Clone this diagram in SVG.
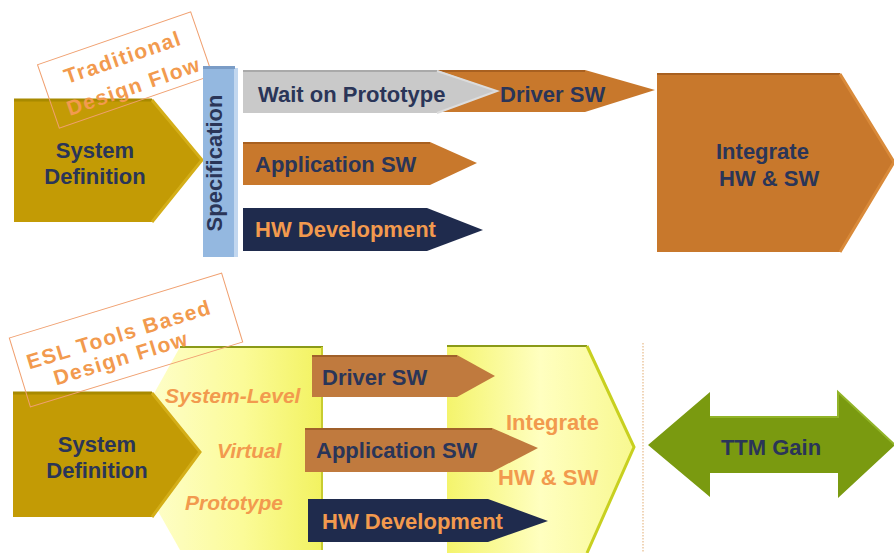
<svg xmlns="http://www.w3.org/2000/svg" width="894" height="553" viewBox="0 0 894 553">
<style>
text{font-family:"Liberation Sans",Arial,sans-serif;font-weight:bold;font-size:22px}
.nv{fill:#2a3558}
.or{fill:#f29a4e}
.it{font-style:italic;font-size:21px}
.gold{fill:#c39b05}
.orange{fill:#c8782c}
.brown{fill:#c07a3e}
.navy{fill:#1f2b4d}
.lbl{fill:none;stroke:#f0a070;stroke-width:1}
.lt{fill:#f29a4e;font-size:21px;letter-spacing:1.5px}
</style>
<defs>
<linearGradient id="y1" x1="0" y1="0" x2="1" y2="0">
<stop offset="0" stop-color="#ffffd8"/>
<stop offset="0.6" stop-color="#fbfb98"/>
<stop offset="1" stop-color="#f2f260"/>
</linearGradient>
<linearGradient id="y2" x1="0" y1="0" x2="1" y2="0">
<stop offset="0" stop-color="#f4f46c"/>
<stop offset="0.5" stop-color="#ffffc0"/>
<stop offset="1" stop-color="#f8f890"/>
</linearGradient>
</defs>
<rect width="894" height="553" fill="#ffffff"/>

<!-- Top section -->
<g id="sysdef1">
<polygon class="gold" points="14,99 152,99 202,160 152,222 14,222"/>
<polyline points="14,100 152,100" stroke="#a88a00" stroke-width="3" fill="none"/>
<polyline points="152,100 202,160 152,222" stroke="#d4ae18" stroke-width="3" fill="none"/>
<text class="nv" x="95" y="158" text-anchor="middle">System</text>
<text class="nv" x="95" y="184" text-anchor="middle">Definition</text>
</g>

<g id="label-traditional" transform="rotate(-19 125 70)">
<rect class="lbl" x="-81" y="-33.5" width="162" height="67" transform="translate(125 70)"/>
<text class="lt" x="127" y="64.5" text-anchor="middle">Traditional</text>
<text class="lt" x="128" y="95.5" text-anchor="middle">Design Flow</text>
</g>

<g id="specification">
<rect x="203" y="66" width="32" height="191" fill="#94b8e0"/>
<rect x="234" y="68" width="4" height="189" fill="#c2d7ef"/>
<rect x="203" y="66" width="32" height="3" fill="#7a9cc6"/>
<text class="nv" transform="translate(222 163) rotate(-90)" x="0" y="0" text-anchor="middle" font-size="21">Specification</text>
</g>

<g id="driver-sw-1">
<polygon class="orange" points="430,70 585,70 655,90 585,112 430,112"/>
<polyline points="430,71 585,71" stroke="#a86020" stroke-width="2" fill="none"/>
<text class="nv" x="500" y="102">Driver SW</text>
</g>

<g id="wait-prototype">
<polygon fill="#c9c9c9" points="243,70 437,70 497,91 437,113 243,113"/>
<polyline points="243,71 437,71" stroke="#a9a9a9" stroke-width="2" fill="none"/>
<polyline points="437,71 497,91 437,113" stroke="#dcdcdc" stroke-width="2" fill="none"/>
<text class="nv" x="258" y="102">Wait on Prototype</text>
</g>

<g id="app-sw-1">
<polygon class="orange" points="243,142 430,142 477,163 430,185 243,185"/>
<polyline points="243,143 430,143" stroke="#a86020" stroke-width="2" fill="none"/>
<text class="nv" x="255" y="172">Application SW</text>
</g>

<g id="hw-dev-1">
<polygon class="navy" points="243,208 427,208 483,230 427,251 243,251"/>
<text class="or" x="255" y="237">HW Development</text>
</g>

<g id="integrate-1">
<polygon class="orange" points="657,73 840,73 894,162 840,252 657,252"/>
<polyline points="657,74 840,74" stroke="#a86020" stroke-width="2" fill="none"/>
<polyline points="840,74 894,162 840,252" stroke="#d98a3a" stroke-width="3" fill="none"/>
<text class="nv" x="716" y="159">Integrate</text>
<text class="nv" x="719" y="186">HW &amp; SW</text>
</g>

<!-- Bottom section -->
<g id="virtual-prototype">
<polygon fill="url(#y1)" points="180,347 323,347 323,550 180,550 123,449"/>
<line x1="180" y1="347" x2="323" y2="347" stroke="#8a9a18" stroke-width="2"/>
<line x1="322" y1="347" x2="322" y2="550" stroke="#c8cc30" stroke-width="2"/>
<text class="or it" x="165" y="403">System-Level</text>
<text class="or it" x="217" y="458">Virtual</text>
<text class="or it" x="185" y="510">Prototype</text>
</g>

<g id="sysdef2">
<polygon class="gold" points="13,392 152,392 200,452 152,517 13,517"/>
<polyline points="13,393 152,393" stroke="#a88a00" stroke-width="3" fill="none"/>
<polyline points="152,393 200,452 152,517" stroke="#d4ae18" stroke-width="3" fill="none"/>
<text class="nv" x="97" y="452" text-anchor="middle">System</text>
<text class="nv" x="97" y="478" text-anchor="middle">Definition</text>
</g>

<g id="label-esl" transform="rotate(-17 126 340)">
<rect class="lbl" x="15" y="304" width="222" height="72"/>
<text class="lt" x="121" y="340" text-anchor="middle">ESL Tools Based</text>
<text class="lt" x="116" y="363" text-anchor="middle">Design Flow</text>
</g>

<g id="integrate-2">
<polygon fill="url(#y2)" points="447,346 587,346 634,447 587,553 447,553"/>
<line x1="447" y1="346" x2="587" y2="346" stroke="#8a9a18" stroke-width="2"/>
<polyline points="587,346 634,447 587,553" stroke="#c8d020" stroke-width="3" fill="none"/>
<text class="or" x="506" y="430">Integrate</text>
<text class="or" x="498" y="485">HW &amp; SW</text>
</g>

<g id="driver-sw-2">
<polygon class="brown" points="312,355 457,355 495,376 457,397 312,397"/>
<polyline points="312,356 457,356" stroke="#a0602a" stroke-width="2" fill="none"/>
<text class="nv" x="322" y="385">Driver SW</text>
</g>

<g id="app-sw-2">
<polygon class="brown" points="305,428 492,428 538,448 492,472 305,472"/>
<polyline points="305,429 492,429" stroke="#a0602a" stroke-width="2" fill="none"/>
<text class="nv" x="316" y="458">Application SW</text>
</g>

<g id="hw-dev-2">
<polygon class="navy" points="308,499 488,499 548,521 488,542 308,542"/>
<text class="or" x="322" y="529">HW Development</text>
</g>

<g id="connectors">
<line x1="643" y1="343" x2="643" y2="553" stroke="#ecc8a0" stroke-width="1.5" stroke-dasharray="1.5 1.5"/>
</g>

<g id="ttm-gain">
<polygon fill="#7a9a10" points="648,445 710,392 710,417 838,417 838,392 895,445 838,498 838,473 710,473 710,497"/>
<polyline points="710,417 838,417 838,392 895,445" stroke="#92b428" stroke-width="2" fill="none"/>
<text class="nv" x="771" y="455" text-anchor="middle" font-size="21">TTM Gain</text>
</g>
</svg>
